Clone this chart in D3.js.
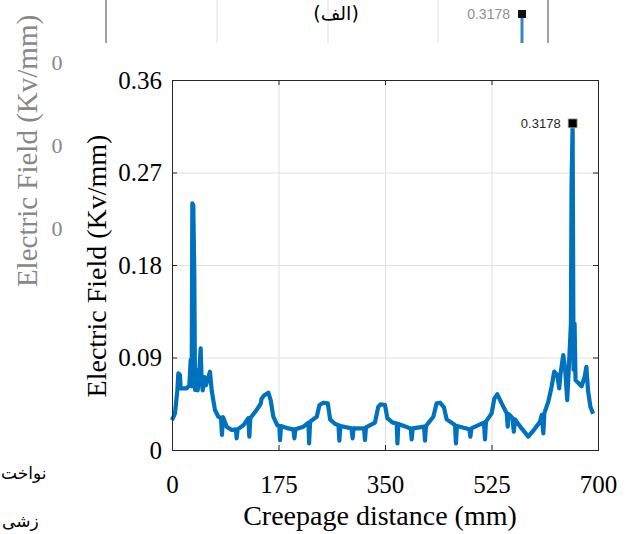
<!DOCTYPE html>
<html>
<head>
    <meta charset="utf-8">
    <title>Electric field along creepage distance</title>
    <script src="https://d3js.org/d3.v7.min.js"></script>
    <style>
        body { margin: 0; background: #fff; }
    </style>
</head>
<body>
    <script>
        // creepage distance (mm) and electric field (kV/mm)
        const distance = [0, 4.9, 8.8, 10.4, 13.1, 14.2, 24.1, 28.5, 30.7, 32.3, 33.4, 35, 36.7, 37.8, 40.5, 42.2, 45, 47.1, 48.7, 50.4, 53.1, 55.9, 59.7, 62.4, 65.2, 70.6, 76.1, 80.5, 82.1, 83.8, 89.8, 98, 105, 106.2, 107.9, 117.2, 125.4, 127.1, 128.7, 139.1, 145.7, 147.3, 151.2, 158.3, 162.1, 166.5, 173.1, 176.4, 177.5, 179.2, 191.2, 199.4, 201.1, 202.8, 216, 224.2, 225.3, 227, 237.9, 242.3, 248.8, 256, 259.8, 268, 273.5, 275, 276.6, 295, 296.8, 298.4, 315.5, 317.1, 318.7, 333.5, 339, 342.8, 350, 353.8, 362.6, 369.2, 370.4, 372, 392.3, 393.9, 395.5, 414.1, 415.7, 417.3, 429.4, 434.8, 440.3, 446.9, 451.3, 465, 466.6, 468.2, 488.7, 490.3, 491.9, 512.6, 514.3, 515.9, 525.2, 529.6, 534.6, 541.7, 550, 551.6, 553.2, 559.5, 561.7, 563.4, 574.5, 585.5, 593.7, 604.7, 607.5, 610.2, 611.8, 618.3, 623.8, 628.1, 633.1, 636.3, 638.5, 642.9, 646.1, 649.4, 652.7, 655.5, 656.5, 658.3, 659.8, 661.5, 663.1, 673, 678, 680.9, 683.6, 687.5, 691.9];
        const field = [0.029, 0.0357, 0.058, 0.0746, 0.073, 0.060, 0.060, 0.063, 0.0876, 0.062, 0.240, 0.238, 0.169, 0.0584, 0.078, 0.058, 0.078, 0.099, 0.068, 0.058, 0.071, 0.063, 0.071, 0.0762, 0.058, 0.0389, 0.0324, 0.031, 0.0146, 0.032, 0.0227, 0.0195, 0.0201, 0.0113, 0.0201, 0.024, 0.031, 0.013, 0.031, 0.039, 0.045, 0.050, 0.053, 0.0558, 0.0486, 0.0324, 0.024, 0.0233, 0.0097, 0.0233, 0.021, 0.0201, 0.0113, 0.0201, 0.0227, 0.0266, 0.0065, 0.0276, 0.0324, 0.0438, 0.046, 0.0454, 0.0298, 0.0253, 0.0243, 0.0091, 0.0233, 0.021, 0.0113, 0.021, 0.021, 0.0097, 0.022, 0.0266, 0.0422, 0.0444, 0.0438, 0.031, 0.0266, 0.026, 0.0065, 0.0253, 0.021, 0.0104, 0.021, 0.0227, 0.0091, 0.0233, 0.0324, 0.0454, 0.046, 0.0415, 0.0298, 0.0243, 0.0065, 0.0233, 0.0201, 0.013, 0.021, 0.0266, 0.0104, 0.0276, 0.0357, 0.050, 0.0542, 0.0454, 0.0357, 0.0227, 0.035, 0.031, 0.0178, 0.0298, 0.021, 0.013, 0.0188, 0.0276, 0.0341, 0.0162, 0.0357, 0.047, 0.0616, 0.0762, 0.073, 0.060, 0.0746, 0.0924, 0.078, 0.0486, 0.0876, 0.123, 0.256, 0.3178, 0.078, 0.123, 0.068, 0.062, 0.071, 0.081, 0.058, 0.042, 0.0353];

        const peak = { x: 658.3, y: 0.3178, label: '0.3178' };

        const xTicks = [0, 175, 350, 525, 700];
        const yTicks = [0, 0.09, 0.18, 0.27, 0.36];
        const yTickLabels = ['0', '0.09', '0.18', '0.27', '0.36'];

        // bits of the neighbouring figure that show up in the page crop
        const ghostTicks = ['0', '0', '0'];
        const ghostGrid = [217, 328, 438];

        const width = 629, height = 534;
        const margin = { left: 172, right: 31, top: 80, bottom: 84 };
        const plotW = width - margin.left - margin.right;
        const plotH = height - margin.top - margin.bottom;

        const serif = '"Liberation Serif", "Times New Roman", serif';

        const svg = d3.select('body').append('svg')
            .attr('width', width)
            .attr('height', height)
            .style('font-family', serif);

        // --- faded neighbouring figure (top strip and left side) ---
        const ghost = svg.append('g');
        ghost.selectAll('line.vg')
            .data(ghostGrid)
            .enter().append('line')
            .attr('x1', d => d).attr('x2', d => d)
            .attr('y1', 0).attr('y2', 43)
            .style('stroke', '#f0f0f0')
            .style('stroke-width', 2);
        ghost.selectAll('line.ax')
            .data([106, 548])
            .enter().append('line')
            .attr('x1', d => d).attr('x2', d => d)
            .attr('y1', 0).attr('y2', 43)
            .style('stroke', '#8a8a8a')
            .style('stroke-width', 1.6);
        ghost.append('line')
            .attr('x1', 522).attr('x2', 522)
            .attr('y1', 16).attr('y2', 43)
            .style('stroke', '#3b86c0')
            .style('stroke-width', 3);
        ghost.append('rect')
            .attr('x', 518).attr('y', 10)
            .attr('width', 8).attr('height', 8)
            .style('fill', '#111');
        ghost.append('text')
            .attr('x', 510).attr('y', 19)
            .attr('text-anchor', 'end')
            .style('font-family', '"Liberation Sans", Arial, sans-serif')
            .style('font-size', '14px')
            .style('fill', '#909090')
            .text('0.3178');
        ghost.append('text')
            .attr('transform', 'translate(37,151) rotate(-90)')
            .attr('text-anchor', 'middle')
            .style('font-size', '29px')
            .style('fill', '#888')
            .text('Electric Field (Kv/mm)');
        ghost.selectAll('text.gt')
            .data(ghostTicks)
            .enter().append('text')
            .attr('x', 57)
            .attr('y', (d, i) => 70 + i * 83)
            .attr('text-anchor', 'middle')
            .style('font-size', '22px')
            .style('fill', '#888')
            .text(d => d);

        // persian captions from the page
        svg.append('text')
            .attr('x', 336).attr('y', 20)
            .attr('text-anchor', 'middle')
            .style('font-family', '"DejaVu Sans", sans-serif')
            .style('font-size', '19px')
            .style('fill', '#000')
            .text('(الف)');
        svg.append('text')
            .attr('x', 1).attr('y', 479)
            .attr('text-anchor', 'start')
            .style('font-family', '"DejaVu Sans", sans-serif')
            .style('font-size', '17px')
            .text('نواخت');
        svg.append('text')
            .attr('x', 2).attr('y', 527)
            .attr('text-anchor', 'start')
            .style('font-family', '"DejaVu Sans", sans-serif')
            .style('font-size', '17px')
            .text('زشی');

        // --- main chart ---
        const x = d3.scaleLinear().domain([0, 700]).range([0, plotW]);
        const y = d3.scaleLinear().domain([0, 0.36]).range([plotH, 0]);

        const g = svg.append('g')
            .attr('transform', `translate(${margin.left},${margin.top})`);

        // grid
        g.append('g')
            .attr('class', 'grid')
            .attr('transform', `translate(0,${plotH})`)
            .call(d3.axisBottom(x).tickValues(xTicks).tickSize(-plotH).tickFormat(''))
            .call(a => a.select('.domain').remove());
        g.append('g')
            .attr('class', 'grid')
            .call(d3.axisLeft(y).tickValues(yTicks).tickSize(-plotW).tickFormat(''))
            .call(a => a.select('.domain').remove());
        g.selectAll('.grid line').style('stroke', '#e0e0e0');

        const line = d3.line()
            .x((d, i) => x(distance[i]))
            .y(d => y(d));

        g.append('path')
            .datum(field)
            .attr('d', line)
            .style('fill', 'none')
            .style('stroke', '#0072bd')
            .style('stroke-width', 4.2)
            .style('stroke-linejoin', 'round');

        // axes, ticks pointing inwards on all four sides
        const axisColor = '#262626';
        const xAxis = g.append('g')
            .attr('class', 'axis')
            .attr('transform', `translate(0,${plotH})`)
            .call(d3.axisBottom(x).tickValues(xTicks).tickSize(-5).tickPadding(25).tickFormat(d3.format('d')));
        const yAxis = g.append('g')
            .attr('class', 'axis')
            .call(d3.axisLeft(y).tickValues(yTicks).tickSize(-5).tickPadding(10)
                .tickFormat((d, i) => yTickLabels[i]));
        g.append('g')
            .attr('class', 'axis')
            .call(d3.axisTop(x).tickValues(xTicks).tickSize(-5).tickFormat(''));
        g.append('g')
            .attr('class', 'axis')
            .attr('transform', `translate(${plotW},0)`)
            .call(d3.axisRight(y).tickValues(yTicks).tickSize(-5).tickFormat(''));

        g.selectAll('.axis .domain, .axis .tick line').style('stroke', axisColor);
        [xAxis, yAxis].forEach(a => a.selectAll('text')
            .style('font-family', serif)
            .style('font-size', '25px')
            .style('fill', '#000'));

        // data tip on the peak
        g.append('rect')
            .attr('x', x(peak.x) - 4.5)
            .attr('y', y(peak.y) - 4.5)
            .attr('width', 9).attr('height', 9)
            .style('fill', '#000')
            .style('stroke', '#c8b98a')
            .style('stroke-width', 0.8);
        g.append('text')
            .attr('x', x(peak.x) - 12)
            .attr('y', y(peak.y) + 4.5)
            .attr('text-anchor', 'end')
            .style('font-family', '"Liberation Sans", Arial, sans-serif')
            .style('font-size', '13px')
            .style('fill', '#262626')
            .text(peak.label);

        // axis titles
        svg.append('text')
            .attr('x', 380).attr('y', 525)
            .attr('text-anchor', 'middle')
            .style('font-size', '28px')
            .text('Creepage distance (mm)');
        svg.append('text')
            .attr('transform', 'translate(106,266) rotate(-90)')
            .attr('text-anchor', 'middle')
            .style('font-size', '28px')
            .text('Electric Field (Kv/mm)');
    </script>
</body>
</html>
